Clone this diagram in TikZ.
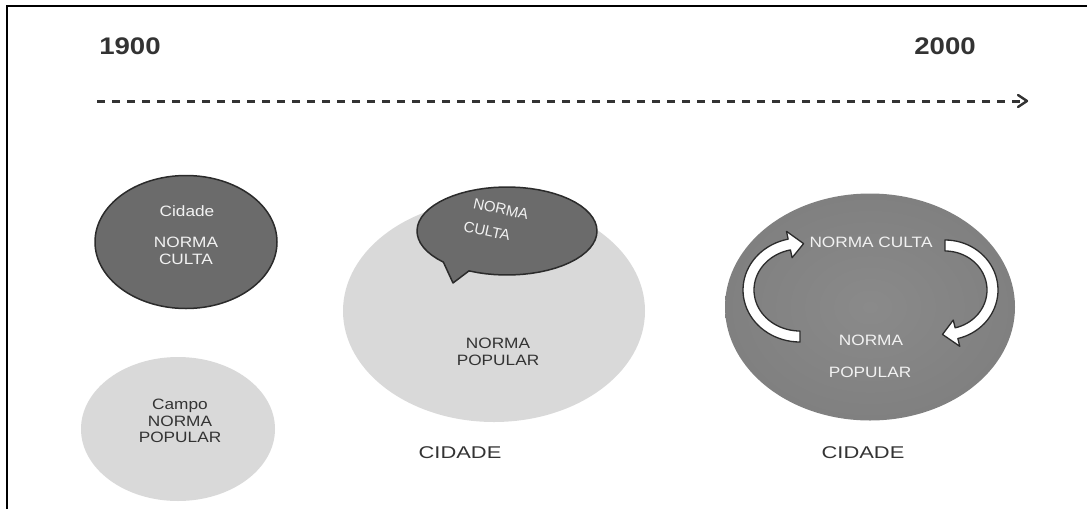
\documentclass[tikz,border=0pt]{standalone}
\usepackage{fontspec}
\setmainfont{Liberation Sans}
\usetikzlibrary{shapes.geometric,arrows.meta}
\definecolor{darkfill}{HTML}{6B6B6B}
\definecolor{darkline}{HTML}{2B2B2B}
\definecolor{lightfill}{HTML}{D9D9D9}
\definecolor{midfill}{HTML}{8A8A8A}
\definecolor{midedge}{HTML}{808080}
\definecolor{txtdark}{HTML}{333333}
\definecolor{txtlight}{HTML}{F2F2F2}
\tikzset{
  ell/.style={ellipse, inner sep=0pt},
  darkell/.style={ell, fill=darkfill, draw=darkline, line width=1.5pt},
  lightell/.style={ell, fill=lightfill},
  lbl/.style={inner sep=0pt, align=center, xscale=1.15, font=\fontsize{15}{16.5}\selectfont},
  wlbl/.style={lbl, text=txtlight},
  dlbl/.style={lbl, text=txtdark},
  rlbl/.style={inner sep=0pt, text=txtlight, rotate=-12, font=\fontsize{15}{16}\selectfont},
  year/.style={inner sep=0pt, xscale=1.15, text=txtdark, font=\fontsize{24}{26}\selectfont\bfseries},
  cyc/.style={draw=darkline, line width=1.3pt, fill=white, line join=round},
}
\begin{document}
\begin{tikzpicture}[x=1pt,y=-1pt]
\useasboundingbox (0,0) rectangle (1087,509);
% frame
\draw[line width=2.4pt, black] (7,509) -- (7,6) -- (1087,6);
% timeline
\node[year] (y1900) at (130,46) {1900};
\node[year] (y2000) at (945,46) {2000};
\coordinate (ts) at (97,101);
\coordinate (te) at (1027,101);
\draw[txtdark, line width=3pt, dash pattern=on 8pt off 7pt] (ts) -- ([xshift=-6pt]te);
\draw[txtdark, line width=2.4pt, line cap=round, line join=round] ([xshift=-9pt,yshift=-6pt]te) -- (te) -- ([xshift=-9pt,yshift=6pt]te);

% left column
\node[darkell, minimum width=182pt, minimum height=133pt] (cult1) at (186,242) {};
\node[wlbl] (cid1) at (187,211) {Cidade};
\node[wlbl] (nc1) at (186,251) {NORMA\\CULTA};
\node[lightell, minimum width=194pt, minimum height=144pt] (pop1) at (178,429) {};
\node[dlbl] (np1) at (180,421) {Campo\\NORMA\\POPULAR};

% middle column
\node[lightell, minimum width=302pt, minimum height=222pt] (pop2) at (494,311) {};
\draw[fill=darkfill, draw=darkline, line width=1.5pt, line join=round]
  plot[samples=60, domain=135:475] ({507+90*cos(\x)},{231+44*sin(\x)})
  -- (453,283) -- cycle;
\node[rlbl] (nc2a) at (501,209) {NORMA};
\node[rlbl] (nc2b) at (487,231) {CULTA};
\node[dlbl] (np2) at (498,352) {NORMA\\POPULAR};
\node[lbl, text=txtdark, font=\fontsize{17}{18}\selectfont, xscale=1.12] (cid2) at (460,453) {CIDADE};

% right column
\node[ell, minimum width=290pt, minimum height=227pt, inner color=midfill, outer color=midedge] (mix) at (870,307) {};
\node[wlbl] (nc3) at (871,242) {NORMA CULTA};
\node[wlbl] (np3a) at (871,340) {NORMA};
\node[wlbl] (np3b) at (870,372) {POPULAR};
\node[lbl, text=txtdark, font=\fontsize{17}{18}\selectfont, xscale=1.12] (cid3) at (863,453) {CIDADE};

% cycle arrows
\draw[cyc]
  plot[samples=40, domain=90:258] ({800+57*cos(\x)},{290+52*sin(\x)})
  -- ({800+65*cos(258)},{290+60*sin(258)})
  -- ({800+51.5*cos(274)},{290+46.5*sin(274)})
  -- ({800+38*cos(258)},{290+33*sin(258)})
  -- plot[samples=40, domain=258:90] ({800+46*cos(\x)},{290+41*sin(\x)})
  -- cycle;
\draw[cyc]
  plot[samples=40, domain=270:436] ({945+53*cos(\x)},{290+50*sin(\x)})
  -- ({945+61*cos(436)},{290+58*sin(436)})
  -- ({945+47.5*cos(453)},{290+44.5*sin(453)})
  -- ({945+34*cos(436)},{290+31*sin(436)})
  -- plot[samples=40, domain=436:270] ({945+42*cos(\x)},{290+39*sin(\x)})
  -- cycle;
\end{tikzpicture}
\end{document}
